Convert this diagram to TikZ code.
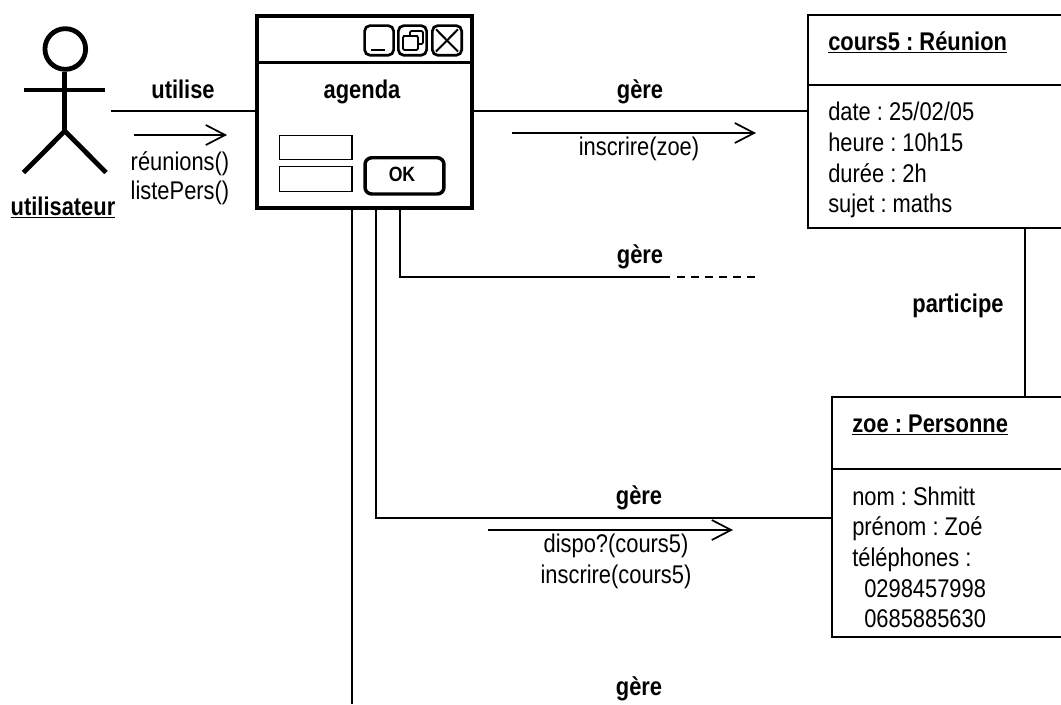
\documentclass[tikz,border=0pt]{standalone}
\usepackage{fontspec}
\setmainfont[FakeStretch=0.855]{Liberation Sans}
\usetikzlibrary{arrows.meta,calc}
\frenchspacing
\tikzset{
  x=0.75pt,y=-0.75pt,
  txt/.style={anchor=base,inner sep=0pt,font=\fontsize{19.2}{19.2}\selectfont},
  txtl/.style={txt,anchor=base west},
  bld/.style={txt,font=\fontsize{19.2}{19.2}\selectfont\bfseries},
  bldl/.style={bld,anchor=base west},
  link/.style={draw=black,line width=1.5pt},
  msg/.style={draw=black,line width=1.3pt,-{Straight Barb[length=14.5pt,width=15pt,line width=1.3pt]}},
  actorline/.style={draw=black,line width=3.6pt},
  objbox/.style={draw=black,line width=1.5pt,anchor=north west,inner sep=0pt},
  winbox/.style={draw=black,line width=3pt,anchor=north west,inner sep=0pt},
  winbtn/.style={draw=black,line width=2pt,rounded corners=4pt,anchor=north west,inner sep=0pt},
  field/.style={draw=black,line width=1.2pt,anchor=north west,inner sep=0pt},
}
\begin{document}
\begin{tikzpicture}
\useasboundingbox (0,0) rectangle (1061,704);
\clip (0,0) rectangle (1061,704);
% actor
\node[circle,draw=black,line width=3.6pt,minimum size=30.5pt,inner sep=0pt] (head) at (65.3,49) {};
\coordinate (hip) at (64.8,131);
\coordinate (armL) at (24,90);
\coordinate (armR) at (105,90);
\coordinate (footL) at (23.5,172.5);
\coordinate (footR) at (106,172.5);
\draw[actorline] (head.south -| hip) -- (hip);
\draw[actorline] (armL) -- (armR);
\draw[actorline] (footL) -- (hip) -- (footR);
\node[bld] (user) at (63,215) {\underline{utilisateur}};
% window
\node[winbox,minimum width=161.6pt,minimum height=144pt] (agenda) at (254.5,13.5) {};
\coordinate (titleR) at (472,62.5);
\draw[draw=black,line width=2.2pt] (agenda.west |- titleR) -- (titleR);
\node[winbtn,minimum width=21.75pt,minimum height=22.2pt] (bmin) at (363.3,24.3) {};
\node[winbtn,minimum width=21.2pt,minimum height=22.2pt] (brest) at (397,24.3) {};
\node[winbtn,minimum width=22pt,minimum height=22.2pt] (bclose) at (431,24.3) {};
\draw[black,line width=2.2pt] (371,50) -- (385,50);
\draw[black,line width=1.3pt,rounded corners=1pt] (410,36) -- (410,31) -- (423,31) -- (423,44) -- (418,44);
\draw[black,line width=1.3pt,rounded corners=1pt] (403,36) rectangle (418,50);
\draw[black,line width=1.3pt] (403,36) -- (418,36);
\draw[black,line width=1.5pt] (bclose.north west) ++(5,5) -- ($(bclose.south east)+(-5,-5)$);
\draw[black,line width=1.5pt] (bclose.north east) ++(-5,5) -- ($(bclose.south west)+(5,-5)$);
\node[bld] (agendalbl) at (362,98) {agenda};
\node[field,minimum width=54.3pt,minimum height=18pt] (f1) at (278.7,134.7) {};
\node[field,minimum width=54.3pt,minimum height=18.75pt] (f2) at (278.7,165.7) {};
\node[draw=black,line width=2.6pt,rounded corners=5pt,anchor=north west,inner sep=0pt,minimum width=59.2pt,minimum height=27.2pt] (ok) at (363.3,156) {};
\node[bld,font=\fontsize{15.5}{15.5}\selectfont\bfseries] (oklbl) at (402,181) {OK};
% objects
\node[objbox,minimum width=225pt,minimum height=159.75pt] (cours) at (807,14) {};
\coordinate (cdiv) at (1100,85);
\draw[link] (cours.west |- cdiv) -- (cdiv);
\node[bldl] (c0) at (828,50) {\underline{cours5 : Réunion}};
\node[txtl] (c1) at (828,120.5) {date : 25/02/05};
\node[txtl] (c2) at (828,151.5) {heure : 10h15};
\node[txtl] (c3) at (828,182) {durée : 2h};
\node[txtl] (c4) at (828,212) {sujet : maths};
\node[objbox,minimum width=225pt,minimum height=180pt] (zoe) at (831,396) {};
\coordinate (zdiv) at (1100,469);
\draw[link] (zoe.west |- zdiv) -- (zdiv);
\node[bldl] (z0) at (852,432) {\underline{zoe : Personne}};
\node[txtl] (z1) at (852,505) {nom : Shmitt};
\node[txtl] (z2) at (852,535.5) {prénom : Zoé};
\node[txtl] (z3) at (852,566) {téléphones :};
\node[txtl] (z4) at (864,597) {0298457998};
\node[txtl] (z5) at (864,627) {0685885630};
% connectors
\coordinate (u0) at (111,111);
\draw[link] (u0) -- (agenda.west |- u0);
\node[bld] (utl) at (183,98) {utilise};
\coordinate (m1a) at (134,135);
\coordinate (m1b) at (227,135);
\draw[msg] (m1a) -- (m1b);
\node[txt] (m1t) at (180,170) {réunions()};
\node[txt] (m1u) at (180,199) {listePers()};
\coordinate (g1) at (640,111);
\draw[link] (agenda.east |- g1) -- (cours.west |- g1);
\node[bld] (g1t) at (640,98) {gère};
\coordinate (m2a) at (512,133);
\coordinate (m2b) at (756,133);
\draw[msg] (m2a) -- (m2b);
\node[txt] (m2t) at (639,155) {inscrire(zoe)};
\coordinate (v2) at (400,207);
\coordinate (c2a) at (400,277);
\coordinate (c2b) at (670,277);
\coordinate (c2d) at (677,277);
\coordinate (c2c) at (755,277);
\draw[link] (v2) -- (c2a) -- (c2b);
\draw[link,dash pattern=on 6pt off 4.5pt] (c2d) -- (c2c);
\node[bld] (g2t) at (640,263) {gère};
\draw[link] (cours.south -| 1025,0) -- (zoe.north -| 1025,0);
\node[bld] (part) at (958,312) {participe};
\coordinate (v3) at (376,207);
\coordinate (c3a) at (376,518);
\draw[link] (v3) -- (c3a) -- (zoe.west |- c3a);
\node[bld] (g3t) at (639,504) {gère};
\coordinate (m3a) at (488,530);
\coordinate (m3b) at (733,530);
\draw[msg] (m3a) -- (m3b);
\node[txt] (m3t) at (616,552) {dispo?(cours5)};
\node[txt] (m3u) at (616,583) {inscrire(cours5)};
\coordinate (v4) at (352,207);
\coordinate (c4a) at (352,704);
\draw[link] (v4) -- (c4a);
\node[bld] (g4t) at (639,695) {gère};
\end{tikzpicture}
\end{document}
